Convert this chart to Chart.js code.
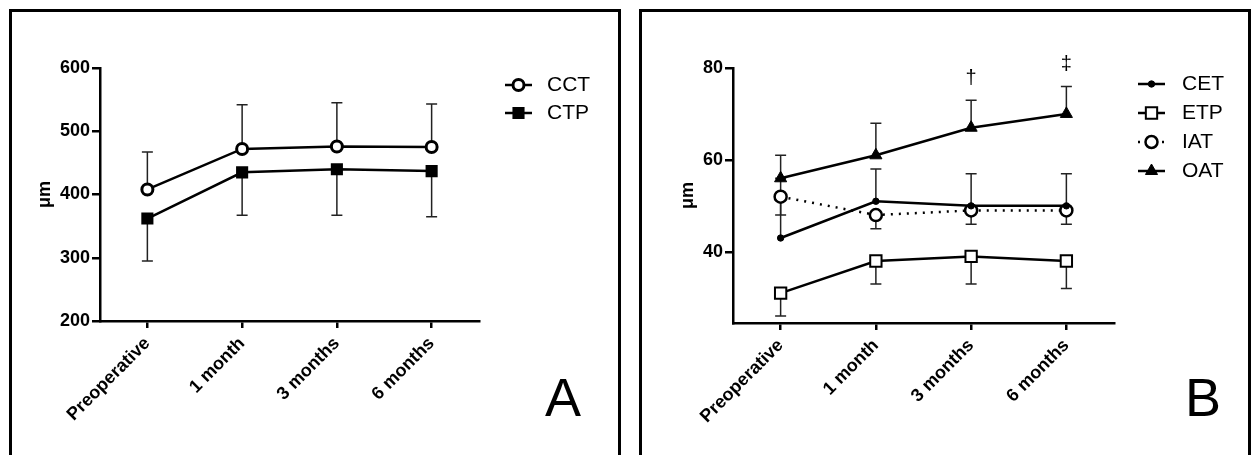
<!DOCTYPE html>
<html lang="en">
<head>
<meta charset="UTF-8">
<title>Corneal thickness after surgery</title>
<script src="https://cdn.jsdelivr.net/npm/chart.js@4.4.1/dist/chart.umd.min.js"></script>
<style>
  html, body { margin: 0; padding: 0; background: #fff; overflow: hidden; }
  body { width: 1256px; height: 455px; position: relative; font-family: "Liberation Sans", Arial, sans-serif; }
  .panel { position: absolute; top: 9px; width: 606px; height: 460px; border: 3px solid #000; }
  #panelA { left: 9px; }
  #panelB { left: 639px; }
  .letter { position: absolute; font-size: 54px; line-height: 1; transform: translate(-50%, -50%); color: #000; }
</style>
</head>
<body>
  <div class="panel" id="panelA">
    <canvas id="chartA" width="606" height="450"></canvas>
    <div class="letter" style="left:551px; top:385px;">A</div>
  </div>
  <div class="panel" id="panelB">
    <canvas id="chartB" width="606" height="450"></canvas>
    <div class="letter" style="left:561px; top:385px;">B</div>
  </div>
<script>
  const categories = ['Preoperative', '1 month', '3 months', '6 months'];

  // panel A
  const cctMean = [408, 472, 476, 475];
  const cctSD = [59, 70, 69, 68];
  const ctpMean = [362, 435, 440, 437];
  const ctpSD = [67, 68, 73, 72];
  const yTicksA = [200, 300, 400, 500, 600];

  // panel B
  const cetMean = [43, 51, 50, 50];
  const cetSD = [13, 7, 7, 7];
  const etpMean = [31, 38, 39, 38];
  const etpSD = [5, 5, 6, 6];
  const iatMean = [52, 48, 49, 49];
  const iatSD = [4, 3, 3, 3];
  const oatMean = [56, 61, 67, 70];
  const oatSD = [5, 7, 6, 6];
  const oatMarks = ['', '', '\u2020', '\u2021'];
  const yTicksB = [40, 60, 80];

  const FONT = '"Liberation Sans", Arial, sans-serif';

  // one-sided SD bars, drawn under the markers
  const errorBars = {
    id: 'errorBars',
    beforeDatasetsDraw(chart) {
      const ctx = chart.ctx;
      const ys = chart.scales.y;
      chart.data.datasets.forEach((ds, i) => {
        const meta = chart.getDatasetMeta(i);
        meta.data.forEach((pt, j) => {
          const yEnd = ys.getPixelForValue(ds.data[j] + ds.errDir * ds.sd[j]);
          ctx.save();
          ctx.strokeStyle = '#222';
          ctx.lineWidth = 1.5;
          ctx.beginPath();
          ctx.moveTo(pt.x, pt.y);
          ctx.lineTo(pt.x, yEnd);
          ctx.moveTo(pt.x - 5.5, yEnd);
          ctx.lineTo(pt.x + 5.5, yEnd);
          ctx.stroke();
          ctx.restore();
        });
      });
    }
  };

  // significance marks above the error bars
  const sigMarks = {
    id: 'sigMarks',
    afterDatasetsDraw(chart) {
      const ctx = chart.ctx;
      const ys = chart.scales.y;
      chart.data.datasets.forEach((ds, i) => {
        if (!ds.marks) return;
        const meta = chart.getDatasetMeta(i);
        meta.data.forEach((pt, j) => {
          if (!ds.marks[j]) return;
          const top = ys.getPixelForValue(ds.data[j] + ds.sd[j]);
          ctx.save();
          ctx.fillStyle = '#000';
          ctx.font = '20px ' + FONT;
          ctx.textAlign = 'center';
          ctx.textBaseline = 'middle';
          ctx.fillText(ds.marks[j], pt.x, top - 22);
          ctx.restore();
        });
      });
    }
  };

  // GraphPad-style legend: short line with the marker on it
  const lineLegend = {
    id: 'lineLegend',
    afterDraw(chart, args, opts) {
      const ctx = chart.ctx;
      chart.data.datasets.forEach((ds, i) => {
        const yy = opts.y + i * opts.gap;
        const mx = opts.x + opts.len / 2;
        ctx.save();
        ctx.strokeStyle = '#000';
        ctx.lineWidth = ds.borderWidth;
        ctx.setLineDash(ds.borderDash || []);
        ctx.beginPath();
        ctx.moveTo(opts.x, yy);
        ctx.lineTo(opts.x + opts.len, yy);
        ctx.stroke();
        ctx.setLineDash([]);
        ctx.fillStyle = ds.pointBackgroundColor;
        ctx.strokeStyle = '#000';
        ctx.lineWidth = ds.pointBorderWidth;
        Chart.helpers.drawPoint(ctx, {
          pointStyle: ds.pointStyle, radius: ds.pointRadius, rotation: 0, borderWidth: ds.pointBorderWidth
        }, mx, yy);
        ctx.fillStyle = '#000';
        ctx.font = '21px ' + FONT;
        ctx.textBaseline = 'middle';
        ctx.textAlign = 'left';
        ctx.fillText(ds.label, opts.x + opts.len + opts.textGap, yy);
        ctx.restore();
      });
    }
  };

  function series(label, data, sd, dir, style, radius, fill, extra) {
    return Object.assign({
      label: label,
      data: data,
      sd: sd,
      errDir: dir,
      borderColor: '#000',
      borderWidth: 2.5,
      tension: 0,
      pointStyle: style,
      pointRadius: radius,
      pointHoverRadius: radius,
      pointBorderWidth: 2.5,
      pointBorderColor: '#000',
      pointBackgroundColor: fill
    }, extra || {});
  }

  function makeScales(yMin, yMax, yTicks, yWidth) {
    return {
      x: {
        type: 'category',
        offset: true,
        grid: { display: true, drawOnChartArea: false, drawTicks: true, tickLength: 7, offset: false, color: '#000', lineWidth: 2.5 },
        border: { display: true, color: '#000', width: 2.5 },
        ticks: { color: '#000', font: { family: FONT, size: 18, weight: 'bold' }, minRotation: 45, maxRotation: 45, autoSkip: false, padding: 5 },
        afterFit: s => { s.height = 100; }
      },
      y: {
        min: yMin,
        max: yMax,
        grid: { display: true, drawOnChartArea: false, drawTicks: true, tickLength: 8, color: '#000', lineWidth: 2.5 },
        border: { display: true, color: '#000', width: 2.5 },
        ticks: { color: '#000', font: { family: FONT, size: 18, weight: 'bold' }, padding: 2 },
        afterBuildTicks: s => { s.ticks = yTicks.map(v => ({ value: v })); },
        title: { display: true, text: '\u03bcm', color: '#000', font: { family: FONT, size: 18, weight: 'bold' } },
        afterFit: s => { s.width = yWidth; }
      }
    };
  }

  function baseOptions(pad, scales, legendPos) {
    return {
      responsive: false,
      animation: false,
      events: [],
      layout: { padding: pad },
      scales: scales,
      plugins: {
        legend: { display: false },
        tooltip: { enabled: false },
        lineLegend: legendPos
      }
    };
  }

  new Chart(document.getElementById('chartA'), {
    type: 'line',
    data: {
      labels: categories,
      datasets: [
        series('CCT', cctMean, cctSD, 1, 'circle', 5.5, '#fff', { pointBorderWidth: 3 }),
        series('CTP', ctpMean, ctpSD, -1, 'rect', 6.8, '#000')
      ]
    },
    options: baseOptions({ left: 18, right: 139, top: 56, bottom: 41 },
      makeScales(200, 600, yTicksA, 70),
      { x: 493, y: 73, gap: 28, len: 27, textGap: 15 }),
    plugins: [errorBars, lineLegend]
  });

  new Chart(document.getElementById('chartB'), {
    type: 'line',
    data: {
      labels: categories,
      datasets: [
        series('CET', cetMean, cetSD, 1, 'circle', 3.2, '#000', { pointBorderWidth: 1 }),
        series('ETP', etpMean, etpSD, -1, 'rect', 8, '#fff', { pointBorderWidth: 2 }),
        series('IAT', iatMean, iatSD, -1, 'circle', 6, '#fff', { borderDash: [2, 6], pointBorderWidth: 2.5 }),
        series('OAT', oatMean, oatSD, 1, 'triangle', 7, '#000', { pointBorderWidth: 1, marks: oatMarks })
      ]
    },
    options: baseOptions({ left: 31, right: 134, top: 56, bottom: 39 },
      makeScales(24.5, 80, yTicksB, 60),
      { x: 496, y: 72, gap: 29, len: 27, textGap: 17 }),
    plugins: [errorBars, sigMarks, lineLegend]
  });
</script>
</body>
</html>
